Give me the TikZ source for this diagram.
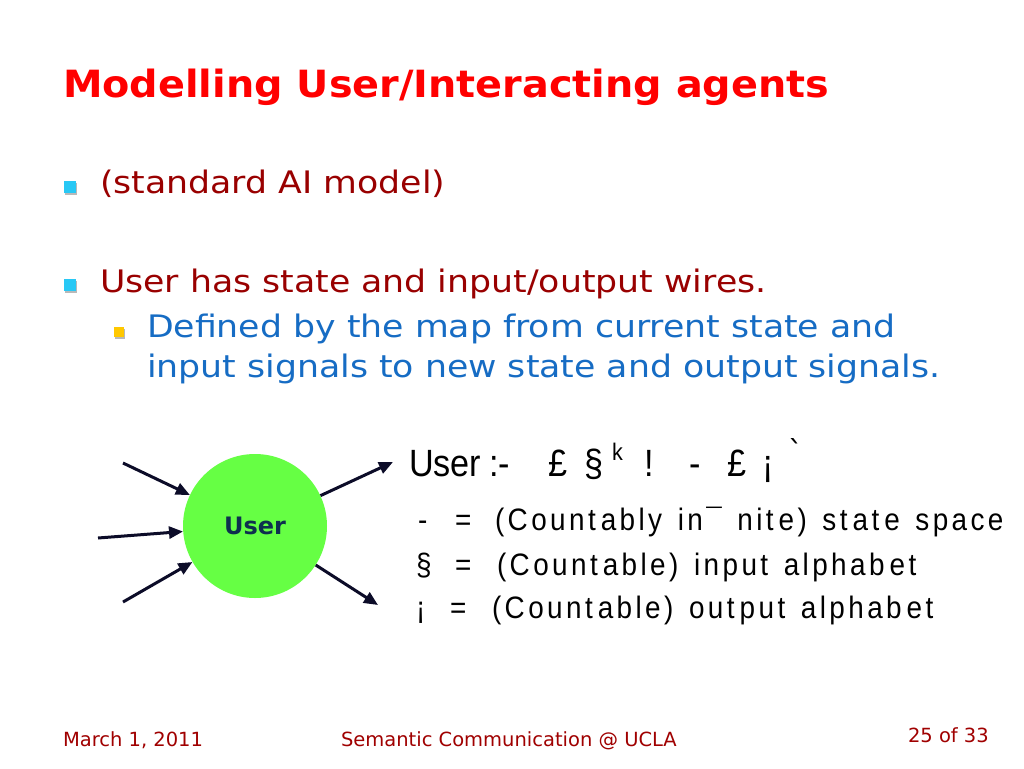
\documentclass[tikz,border=0pt]{standalone}
\usepackage{fontspec}
\setmainfont{DejaVu Sans}
\newfontfamily\titlefont[FakeStretch=1.06]{DejaVu Sans}
\newfontfamily\bodyfont[FakeStretch=1.12]{DejaVu Sans}
\newfontfamily\footfont{DejaVu Sans}
\newfontfamily\plainfont{DejaVu Sans}
\newfontfamily\eqfont[FakeStretch=0.9]{Liberation Sans}
\newfontfamily\spacedfont[FakeStretch=0.9,LetterSpace=11,WordSpace=1.4]{Liberation Sans}
\usetikzlibrary{arrows.meta,shadows}
\definecolor{titlered}{RGB}{255,0,0}
\definecolor{darkred}{RGB}{153,0,0}
\definecolor{subblue}{RGB}{22,108,196}
\definecolor{shadowgray}{RGB}{185,185,185}
\definecolor{bulletcyan}{RGB}{40,200,245}
\definecolor{bulletyellow}{RGB}{255,200,0}
\definecolor{usergreen}{RGB}{102,255,68}
\definecolor{usertext}{RGB}{14,47,79}
\definecolor{wire}{RGB}{12,12,40}
\definecolor{footred}{RGB}{160,0,0}
\newcommand\tgap{\kern5pt}
\begin{document}
\begin{tikzpicture}[x=1pt,y=-1pt,
  txt/.style={anchor=base west, inner sep=0pt, outer sep=0pt},
  titletxt/.style={txt, font={\titlefont\bfseries\fontsize{37.5}{40}\selectfont}},
  bodytxt/.style={txt, font={\bodyfont\fontsize{31}{36}\selectfont}},
  foottxt/.style={txt, text=footred, font={\footfont\fontsize{19.5}{22}\selectfont}},
  eqtxt/.style={txt, text=black, font={\eqfont\fontsize{38}{40}\selectfont}},
  deftxt/.style={txt, text=black, font={\spacedfont\fontsize{31}{34}\selectfont}},
  bulletbox/.style={rectangle, inner sep=0pt, minimum size=12pt, drop shadow={shadow xshift=1.5pt, shadow yshift=-1.5pt, fill=shadowgray, opacity=1}},
  agent/.style={circle, fill=usergreen, minimum size=144pt, inner sep=0pt, text=usertext, font={\plainfont\bfseries\fontsize{24}{26}\selectfont}},
  wirearrow/.style={draw=wire, line width=3pt, -{Triangle[length=14pt,width=12pt]}},
]
\useasboundingbox (0,0) rectangle (1024,768);
\fill[white] (0,0) rectangle (1024,768);

% title
\node[titletxt, text=titlered] (title) at (63,97) {Modelling User/Interacting agents};

% bullets
\node[bulletbox, fill=bulletcyan] (b1) at (69.5,187) {};
\node[bodytxt, text=darkred] (l1) at (100,193) {(standard AI model)};

\node[bulletbox, fill=bulletcyan] (b2) at (69.5,285) {};
\node[bodytxt, text=darkred] (l2) at (100,292) {User has state and input/output wires.};

\node[bulletbox, fill=bulletyellow, minimum size=10pt] (b3) at (118.5,332) {};
\node[bodytxt, text=subblue] (l3) at (147,337) {Defined by the map from current state and};
\node[bodytxt, text=subblue] (l4) at (147,377) {input signals to new state and output signals.};

% agent diagram
\node[agent] (user) at (255,526) {User};
\coordinate (in1) at (123,463);
\coordinate (in2) at (98,538);
\coordinate (in3) at (123,602);
\coordinate (out1) at (393,462);
\coordinate (out2) at (378,605);
\draw[wirearrow] (in1) -- (user);
\draw[wirearrow] (in2) -- (user);
\draw[wirearrow] (in3) -- (user);
\draw[wirearrow] (user) -- (out1);
\draw[wirearrow] (user) -- (out2);

% equation line
\node[eqtxt] (e-user) at (409,476) {User};
\node[eqtxt] (e-colon) at (489,476) {:-};
\node[eqtxt] (e-pound1) at (548,476) {£};
\node[eqtxt] (e-sect) at (584,476) {§};
\node[eqtxt, font={\eqfont\fontsize{24}{26}\selectfont}] (e-k) at (612,460) {k};
\node[eqtxt] (e-excl) at (644,476) {!};
\node[eqtxt] (e-dash) at (689,476) {-};
\node[eqtxt] (e-pound2) at (727,476) {£};
\node[eqtxt] (e-iexcl) at (762,476) {¡};
\node[txt, font={\plainfont\fontsize{30}{32}\selectfont}] (e-grave) at (788,462) {ˋ};

% definitions
\node[deftxt] (d1-sym) at (418,530) {-};
\node[deftxt] (d1-eq) at (455,530) {=};
\node[deftxt] (d1-txt) at (495,530) {(Count\tgap ably in¯ nit\tgap e) st\tgap at\tgap e space};
\node[deftxt] (d2-sym) at (416,575) {§};
\node[deftxt] (d2-eq) at (455,575) {=};
\node[deftxt] (d2-txt) at (497,575) {(Count\tgap able) input alphab\tgap et};
\node[deftxt] (d3-sym) at (416,618) {¡};
\node[deftxt] (d3-eq) at (450,618) {=};
\node[deftxt] (d3-txt) at (492,618) {(Count\tgap able) out\tgap put alphab\tgap et};

% footer
\node[foottxt] (f-date) at (63,746) {March 1, 2011};
\node[foottxt] (f-mid) at (341,746) {Semantic Communication @ UCLA};
\node[foottxt] (f-page) at (908,742) {25 of 33};
\end{tikzpicture}
\end{document}
